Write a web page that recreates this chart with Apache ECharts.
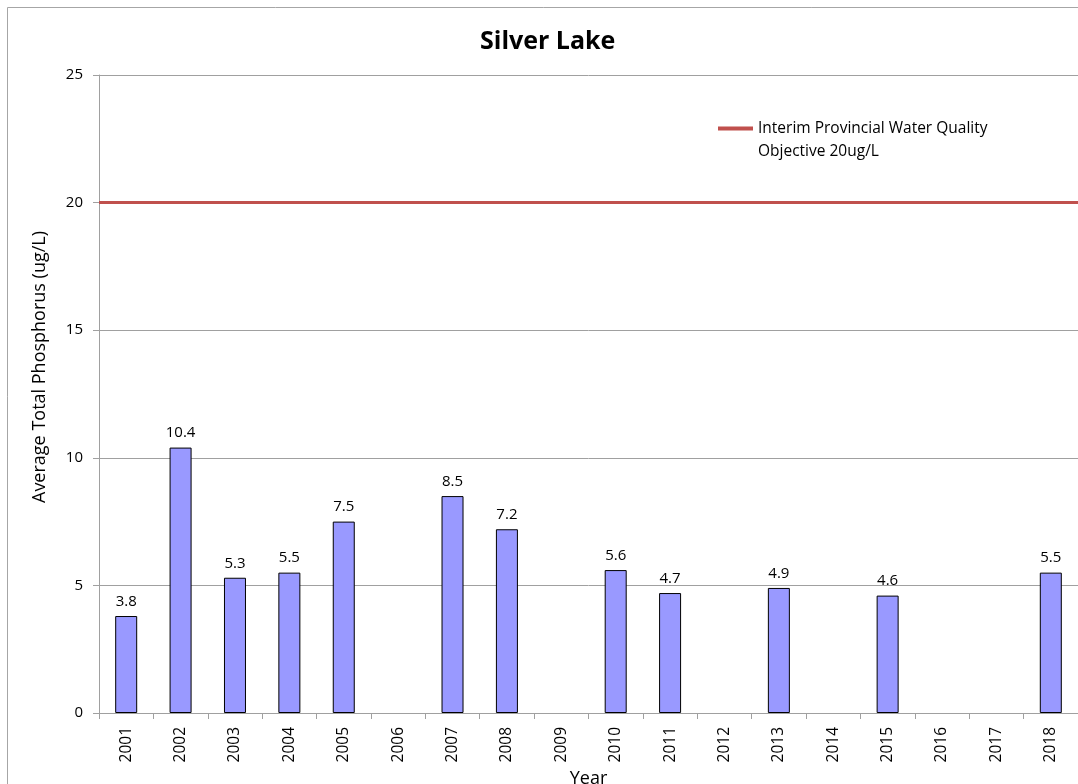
<!DOCTYPE html>
<html>
<head>
<meta charset="utf-8">
<script src="https://cdn.jsdelivr.net/npm/echarts@6/dist/echarts.min.js"></script>
<style>
  html, body { margin: 0; padding: 0; background: #fff; }
  #chart { width: 1078px; height: 784px; }
</style>
</head>
<body>
<div id="chart"></div>
<script>
// data
const years = ['2001', '2002', '2003', '2004', '2005', '2006', '2007', '2008', '2009',
  '2010', '2011', '2012', '2013', '2014', '2015', '2016', '2017', '2018'];
const phosphorus = [3.8, 10.4, 5.3, 5.5, 7.5, null, 8.5, 7.2, null,
  5.6, 4.7, null, 4.9, null, 4.6, null, null, 5.5];
const objectiveName = 'Interim Provincial Water Quality\nObjective 20ug/L';
const objectiveValue = 20;

const font = 'Open Sans, Noto Sans, sans-serif';
const chart = echarts.init(document.getElementById('chart'));

var option = {
  animation: false,
  textStyle: { fontFamily: font, color: '#000' },
  title: {
    text: 'Silver Lake',
    left: 475,
    top: 24,
    textStyle: { fontSize: 25, fontWeight: 'bold', fontFamily: font, color: '#000' }
  },
  // outer chart border (top and left edges visible)
  graphic: [{
    type: 'rect',
    shape: { x: 7.5, y: 7.5, width: 2000, height: 2000 },
    style: { fill: 'none', stroke: '#a6a6a6', lineWidth: 1 },
    silent: true
  }],
  legend: {
    left: 713,
    top: 112,
    // swatch sits at the top of a taller box so it lines up with the first text line
    icon: 'path://M0,0H35V4H0Z M0,27H35',
    itemWidth: 35,
    itemHeight: 27,
    itemGap: 7,
    data: [{ name: objectiveName, itemStyle: { color: '#c0504d' } }],
    textStyle: { fontSize: 15.5, lineHeight: 23, fontFamily: font, color: '#000' }
  },
  grid: { left: 99, right: 0, top: 75, bottom: 71, outerBoundsMode: 'none' },
  xAxis: {
    type: 'category',
    data: years,
    name: 'Year',
    nameLocation: 'middle',
    nameGap: 56,
    nameTextStyle: { fontSize: 18, color: '#000' },
    axisLine: { lineStyle: { color: '#a0a0a0' } },
    axisTick: { show: true, length: 6, lineStyle: { color: '#a0a0a0' } },
    axisLabel: { rotate: 90, fontSize: 15.5, color: '#000', margin: 14 }
  },
  yAxis: {
    type: 'value',
    min: 0,
    max: 25,
    interval: 5,
    name: 'Average Total Phosphorus (ug/L)',
    nameLocation: 'middle',
    nameGap: 50,
    nameTextStyle: { fontSize: 18, color: '#000', padding: [0, 0, 0, 54] },
    axisLine: { show: true, lineStyle: { color: '#a0a0a0' } },
    axisTick: { show: true, length: 6, lineStyle: { color: '#a0a0a0' } },
    axisLabel: { fontSize: 15, color: '#000', margin: 16 },
    splitLine: { lineStyle: { color: '#a0a0a0' } }
  },
  series: [
    {
      name: 'Phosphorus',
      type: 'bar',
      data: phosphorus,
      barWidth: 22,
      itemStyle: { color: '#9999ff', borderColor: '#000', borderWidth: 1 },
      label: {
        show: true,
        position: 'top',
        distance: 7,
        fontSize: 15,
        color: '#000',
        formatter: (p) => p.value.toFixed(1)
      }
    },
    {
      name: objectiveName,
      type: 'line',
      data: [],
      itemStyle: { color: '#c0504d' },
      lineStyle: { color: '#c0504d', width: 3 },
      markLine: {
        silent: true,
        symbol: 'none',
        label: { show: false },
        lineStyle: { color: '#c0504d', width: 3, type: 'solid' },
        data: [{ yAxis: objectiveValue }]
      }
    }
  ]
};

chart.setOption(option);
</script>
</body>
</html>
